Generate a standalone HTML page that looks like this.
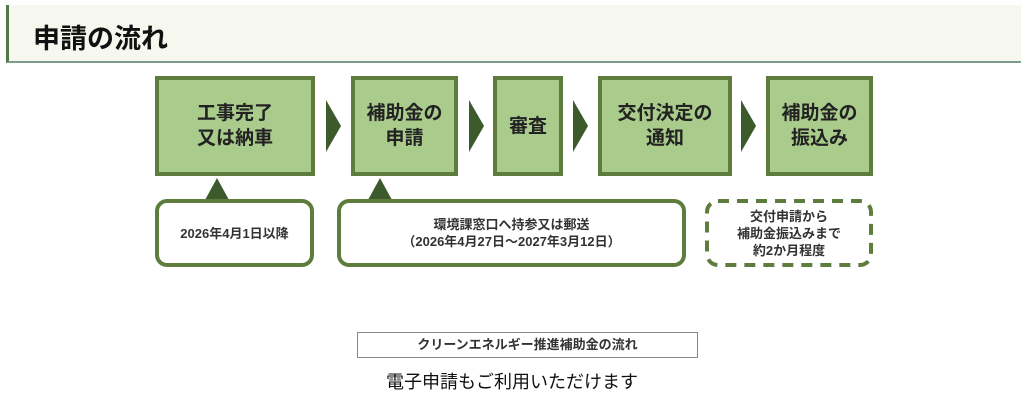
<!DOCTYPE html>
<html><head><meta charset="utf-8"><style>
body{margin:0;width:1024px;height:407px;background:#fff;position:relative;overflow:hidden;font-family:"Liberation Sans","Noto Sans CJK JP",sans-serif;}
.a{position:absolute;box-sizing:border-box;}
.hd{left:6px;top:5px;width:1015px;height:58px;background:#f6f7ee;border-left:3px solid #55784a;border-bottom:2px solid #7d9a8a;}
.hd span{position:absolute;left:24px;top:12px;font-size:27px;font-weight:bold;color:#111;}
.bx{top:76px;height:100px;background:#a9cb8b;border:4px solid #5e7d3c;display:flex;align-items:center;justify-content:center;text-align:center;font-size:19px;font-weight:bold;line-height:25px;color:#222;}
.ar{top:100px;width:0;height:0;border-top:26px solid transparent;border-bottom:26px solid transparent;border-left:15px solid #3d5a2c;}
.tr{top:178px;width:0;height:0;border-left:12px solid transparent;border-right:12px solid transparent;border-bottom:22px solid #3d5a2c;}
.co{top:199px;height:68px;border:4px solid #5e7d3c;border-radius:12px;background:#fff;display:flex;align-items:center;justify-content:center;text-align:center;font-size:13px;font-weight:bold;line-height:17px;color:#333;}
</style></head><body>
<div class="a hd"><span>申請の流れ</span></div>
<div class="a bx" style="left:155px;width:160px">工事完了<br>又は納車</div>
<div class="a bx" style="left:351px;width:107px">補助金の<br>申請</div>
<div class="a bx" style="left:493px;width:70px">審査</div>
<div class="a bx" style="left:598px;width:134px">交付決定の<br>通知</div>
<div class="a bx" style="left:766px;width:107px">補助金の<br>振込み</div>
<div class="a ar" style="left:326px"></div>
<div class="a ar" style="left:469px"></div>
<div class="a ar" style="left:573px"></div>
<div class="a ar" style="left:741px"></div>
<div class="a tr" style="left:205px"></div>
<div class="a tr" style="left:368px"></div>
<div class="a co" style="left:155px;width:159px">2026年4月1日以降</div>
<div class="a co" style="left:337px;width:349px">環境課窓口へ持参又は郵送<br>（2026年4月27日～2027年3月12日）</div>
<svg class="a" style="left:705px;top:199px" width="168" height="68"><rect x="2" y="2" width="164" height="64" rx="11" fill="#fff" stroke="#5e7d3c" stroke-width="4" stroke-dasharray="11 8"/></svg>
<div class="a co" style="left:705px;width:168px;border-color:transparent;background:transparent">交付申請から<br>補助金振込みまで<br>約2か月程度</div>
<div class="a" style="left:357px;top:332px;width:341px;height:26px;border:1px solid #888;font-size:13px;font-weight:bold;color:#333;text-align:center;line-height:24px">クリーンエネルギー推進補助金の流れ</div>
<div class="a" style="left:0;width:1024px;top:368px;text-align:center;font-size:18px;color:#111">電子申請もご利用いただけます</div>
</body></html>
